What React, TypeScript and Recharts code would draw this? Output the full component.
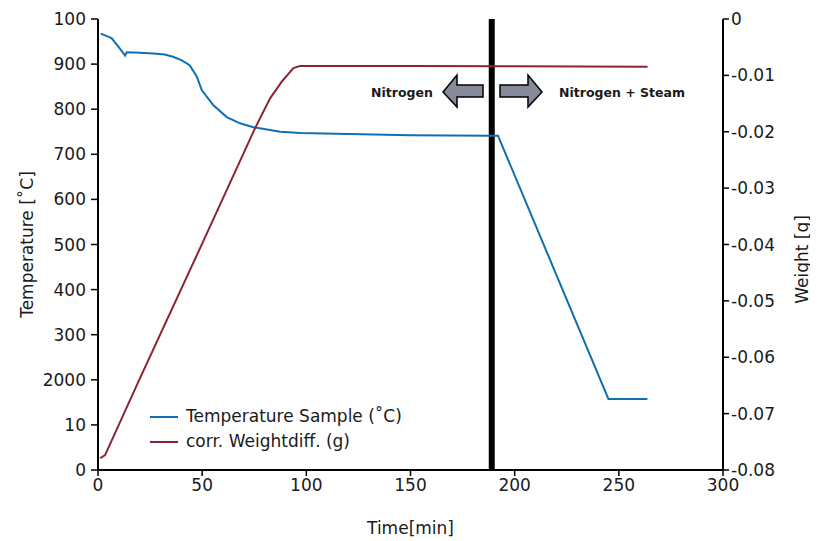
import React from "react";
import { LineChart, Line, XAxis, YAxis, ReferenceLine } from "recharts";

// blue curve, read on the right (weight) scale
const blueTime = [1.3, 4, 6.5, 9.8, 13, 13.8, 20, 26.5, 32, 36, 40, 44, 47.4, 49.8, 55.4, 61.8, 68.2, 74.6, 87.4, 97, 150, 189, 192, 245, 263.7];
const blueWeight = [-0.0026, -0.003, -0.0034, -0.0049, -0.0065, -0.0059, -0.006, -0.0061, -0.0063, -0.0067, -0.0073, -0.0082, -0.0102, -0.0126, -0.0153, -0.0174, -0.0185, -0.0192, -0.02, -0.0202, -0.0206, -0.0207, -0.0207, -0.0674, -0.0674];

// red curve, read on the left (temperature) scale
const redTime = [1, 3.4, 19.4, 50, 75.4, 82.6, 88.2, 93.8, 97, 150, 200, 263.8];
const redTemp = [26, 33, 196, 502, 758, 824, 861, 891, 896, 896, 895, 894];

const xTicks = [0, 50, 100, 150, 200, 250, 300];
const leftTicks = [0, 100, 200, 300, 400, 500, 600, 700, 800, 900, 1000];
const leftTickLabels = ["0", "10", "2000", "300", "400", "500", "600", "700", "800", "900", "100"];
const rightTicks = [-0.08, -0.07, -0.06, -0.05, -0.04, -0.03, -0.02, -0.01, 0];
const switchTime = 189;

const blueData = blueTime.map((t, i) => ({ t, v: blueWeight[i] }));
const redData = redTime.map((t, i) => ({ t, v: redTemp[i] }));

const BLUE = "#0f6fb2";
const RED = "#8c2333";
const FONT = "'DejaVu Sans', sans-serif";
const tickStyle = { fill: "#1a1a1a", fontSize: 17, fontFamily: FONT };
const titleStyle = { fill: "#1a1a1a", fontSize: 17, fontFamily: FONT };

const WeightLabel = (props: any) => {
  const vb = props.viewBox || { x: 715, y: 11, width: 95, height: 451 };
  const cx = vb.x + vb.width - 16;
  const cy = vb.y + vb.height / 2 + 15;
  return (
    <text transform={`translate(${cx},${cy}) rotate(-90)`} textAnchor="middle" dominantBaseline="central" style={titleStyle}>
      Weight [g]
    </text>
  );
};

const App: React.FC = () => {
  return (
    <div style={{ position: "relative", width: 810, height: 533, fontFamily: FONT }}>
      <LineChart width={810} height={533} margin={{ top: 11, right: 0, left: 0, bottom: 0 }}>
        <XAxis
          type="number"
          dataKey="t"
          domain={[0, 300]}
          ticks={xTicks}
          height={71}
          tickSize={6}
          tickMargin={3}
          tick={tickStyle}
          axisLine={{ stroke: "#000", strokeWidth: 2 }}
          tickLine={{ stroke: "#000", strokeWidth: 1.5 }}
          label={{ value: "Time[min]", position: "insideBottom", offset: 7, style: titleStyle }}
        />
        <YAxis
          yAxisId="left"
          type="number"
          domain={[0, 1000]}
          ticks={leftTicks}
          tickFormatter={(v: number) => leftTickLabels[leftTicks.indexOf(v)] ?? String(v)}
          width={90}
          tickSize={7}
          tickMargin={5}
          tick={tickStyle}
          axisLine={{ stroke: "#000", strokeWidth: 2 }}
          tickLine={{ stroke: "#000", strokeWidth: 1.5 }}
          label={{ value: "Temperature [˚C]", angle: -90, position: "insideLeft", offset: 19, style: { ...titleStyle, textAnchor: "middle" } }}
        />
        <YAxis
          yAxisId="right"
          orientation="right"
          type="number"
          domain={[-0.08, 0]}
          ticks={rightTicks}
          tickFormatter={(v: number) => (v === 0 ? "0" : v.toFixed(2))}
          width={95}
          tickSize={6}
          tickMargin={2}
          tick={tickStyle}
          axisLine={{ stroke: "#000", strokeWidth: 2 }}
          tickLine={{ stroke: "#000", strokeWidth: 1.5 }}
          label={<WeightLabel />}
        />
        <ReferenceLine yAxisId="left" x={switchTime} stroke="#000" strokeWidth={6} />
        <Line yAxisId="right" data={blueData} dataKey="v" type="linear" stroke={BLUE} strokeWidth={2} dot={false} isAnimationActive={false} />
        <Line yAxisId="left" data={redData} dataKey="v" type="linear" stroke={RED} strokeWidth={2} dot={false} isAnimationActive={false} />
      </LineChart>

      {/* legend */}
      <div style={{ position: "absolute", left: 142, top: 396, fontSize: 17, color: "#1a1a1a", lineHeight: "25px" }}>
        <div style={{ display: "flex", alignItems: "center" }}>
          <span style={{ display: "inline-block", width: 28, height: 2, background: BLUE, marginRight: 8 }} />
          Temperature Sample (˚C)
        </div>
        <div style={{ display: "flex", alignItems: "center" }}>
          <span style={{ display: "inline-block", width: 28, height: 2, background: RED, marginRight: 8 }} />
          corr. Weightdiff. (g)
        </div>
      </div>

      {/* gas annotation */}
      <svg width={810} height={533} style={{ position: "absolute", left: 0, top: 0, pointerEvents: "none" }}>
        <text x={394} y={84} textAnchor="middle" dominantBaseline="central" fontSize={12.5} fontWeight="bold" fill="#1a1a1a" fontFamily={FONT}>
          Nitrogen
        </text>
        <polygon points="435,84 449,67 449,77 475,77 475,89 449,89 449,99" fill="#878a98" stroke="#000" strokeWidth={1.5} />
        <polygon points="534,84 520,67 520,77 492,77 492,89 520,89 520,99" fill="#878a98" stroke="#000" strokeWidth={1.5} />
        <text x={614} y={84} textAnchor="middle" dominantBaseline="central" fontSize={12.5} fontWeight="bold" fill="#1a1a1a" fontFamily={FONT}>
          Nitrogen + Steam
        </text>
      </svg>
    </div>
  );
};

export default App;
